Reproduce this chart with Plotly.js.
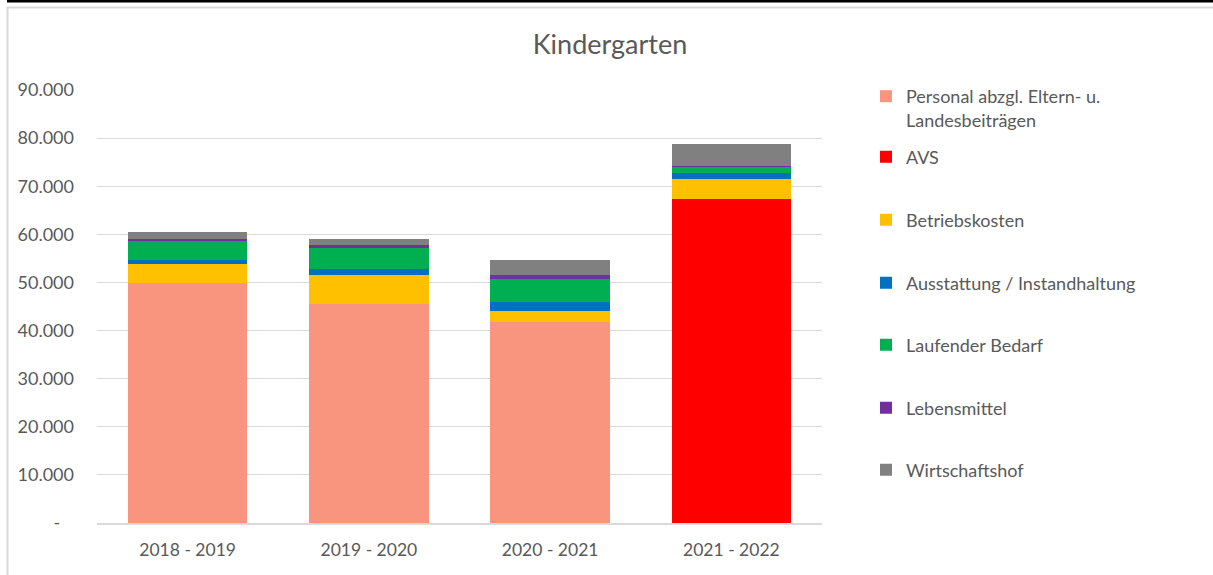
<!DOCTYPE html>
<html>
<head>
<meta charset="utf-8">
<script src="https://cdn.plot.ly/plotly-3.0.1.min.js"></script>
<style>
  html, body { margin: 0; padding: 0; background: #ffffff; }
  #chart { width: 1213px; height: 575px; }
</style>
</head>
<body>
<div id="chart"></div>
<script>
// ---- data ----
const categories = ['2018 - 2019', '2019 - 2020', '2020 - 2021', '2021 - 2022'];
const seriesNames = [
  'Personal abzgl. Eltern- u.<br>Landesbeiträgen',
  'AVS',
  'Betriebskosten',
  'Ausstattung / Instandhaltung',
  'Laufender Bedarf',
  'Lebensmittel',
  'Wirtschaftshof'
];
const personal     = [49900, 45600, 41850, 0];
const avs          = [0, 0, 0, 67300];
const betrieb      = [4000, 5900, 2150, 4150];
const ausstattung  = [800, 1300, 2000, 1350];
const laufend      = [3850, 4450, 4700, 1100];
const lebensmittel = [400, 600, 850, 350];
const wirtschaft   = [1500, 1100, 3050, 4450];
const yTickVals  = [0, 10000, 20000, 30000, 40000, 50000, 60000, 70000, 80000, 90000];
const yTickText  = ['-\u00a0\u00a0\u00a0', '10.000', '20.000', '30.000', '40.000', '50.000', '60.000', '70.000', '80.000', '90.000'];

// ---- styles ----
const colors = ['#F9957F', '#FF0000', '#FFC000', '#0070C0', '#00B050', '#7030A0', '#808080'];
const values = [personal, avs, betrieb, ausstattung, laufend, lebensmittel, wirtschaft];
const FONT = 'Lato, "Liberation Sans", sans-serif';
const TXT = '#595959';

// pixel helpers (plot area: x 97..822, y 90..523)
const L = 97, R = 391, T = 90, B = 52, W = 1213, H = 575;
const pw = W - L - R, ph = H - T - B;
const px = x => (x - L) / pw;
const py = y => (H - B - y) / ph;

const legendKeys = ['legend', 'legend2', 'legend3', 'legend4', 'legend5', 'legend6', 'legend7'];
const legendY = [96, 157, 220, 283, 345, 408, 470];

const traces = values.map((v, i) => ({
  type: 'bar',
  name: seriesNames[i],
  x: categories,
  y: v,
  marker: { color: colors[i], line: { width: 0 } },
  legend: legendKeys[i],
  showlegend: true,
  hoverinfo: 'skip'
}));

const layout = {
  width: W, height: H,
  margin: { l: L, r: R, t: T, b: B, pad: 0 },
  paper_bgcolor: '#ffffff',
  plot_bgcolor: '#ffffff',
  barmode: 'stack',
  bargap: 0.34,
  showlegend: true,
  font: { family: FONT, size: 18, color: TXT },
  title: {
    text: 'Kindergarten',
    font: { family: FONT, size: 27, color: TXT },
    x: 610 / W, xanchor: 'center', xref: 'container',
    y: 1 - 45 / H, yanchor: 'middle', yref: 'container'
  },
  xaxis: {
    type: 'category',
    showgrid: false,
    showline: true, linecolor: '#d9d9d9', linewidth: 2,
    ticks: '', ticklabelstandoff: 10,
    tickfont: { family: FONT, size: 17.5, color: TXT },
    fixedrange: true
  },
  yaxis: {
    range: [0, 90000],
    tickvals: yTickVals, ticktext: yTickText,
    showgrid: true, gridcolor: '#d9d9d9', gridwidth: 1,
    zeroline: false, showline: false,
    ticks: '', ticklabelstandoff: 22,
    tickfont: { family: FONT, size: 18, color: TXT },
    fixedrange: true
  },
  shapes: [
    { type: 'rect', xref: 'paper', yref: 'paper', x0: px(7), x1: px(W), y0: py(0), y1: py(2.5),
      fillcolor: '#000000', line: { width: 0 }, layer: 'above' },
    { type: 'line', xref: 'paper', yref: 'paper', x0: px(7), x1: px(W), y0: py(7.5), y1: py(7.5),
      line: { color: '#d9d9d9', width: 2 } },
    { type: 'line', xref: 'paper', yref: 'paper', x0: px(7.5), x1: px(7.5), y0: py(7), y1: py(H),
      line: { color: '#d9d9d9', width: 2 } }
  ]
};

legendKeys.forEach((k, i) => {
  layout[k] = {
    x: px(866), xanchor: 'left', xref: 'paper',
    y: i === 0 ? py(legendY[i] - 18) : py(legendY[i]),
    yanchor: i === 0 ? 'top' : 'middle', yref: 'paper',
    valign: 'top',
    bgcolor: 'rgba(0,0,0,0)',
    borderwidth: 0,
    font: { family: FONT, size: 18, color: TXT },
    itemclick: false, itemdoubleclick: false
  };
});

Plotly.newPlot('chart', traces, layout, { displayModeBar: false, staticPlot: true });
</script>
</body>
</html>
